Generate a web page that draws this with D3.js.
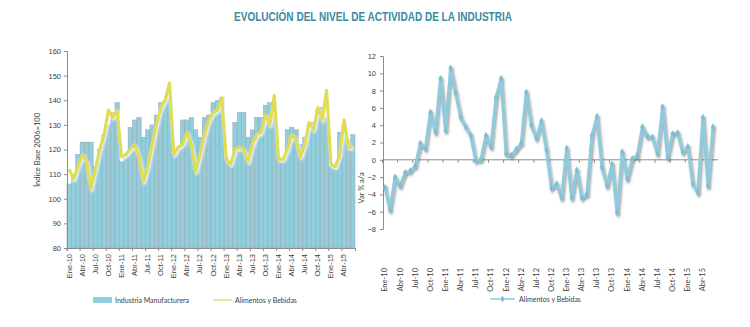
<!DOCTYPE html>
<html><head><meta charset="utf-8">
<script src="https://cdn.jsdelivr.net/npm/d3@7"></script>
<style>
body{margin:0;background:#fff;}
svg{display:block;font-family:Lato,"Open Sans",sans-serif;}
</style></head>
<body><svg id="c" width="750" height="327"></svg>
<script>
const monthNames = ["Ene","Feb","Mar","Abr","May","Jun","Jul","Ago","Sep","Oct","Nov","Dic"];
const years = ["10","11","12","13","14","15"];
const nMonths = 66;
const categories = d3.range(nMonths).map(i => monthNames[i % 12] + "-" + years[Math.floor(i / 12)]);

// Índice (base 2006=100) Industria Manufacturera
const industria = [
  106,109,118,123,123,123,113,120,126,130,135,139,
  115,118,129,132,133,125,128,130,134,139,140,141,
  118,120,132,132,133,128,125,133,134,139,140,141,
  117,115,131,135,135,125,128,133,133,138,139,139,
  117,116,128,129,128,122,125,130,131,136,137,133,
  113,112,127,130,124,126
];
// Índice Alimentos y Bebidas
const alimentos = [
  112,108,113,118,115,104,112,120,126,136,133,136,
  117,118,120,122,117,107,113,122,130,137,140,147,
  118,121,122,127,122,111,118,126,132,135,136,141,
  116,114,120,121,120,115,122,126,127,134,130,142,
  116,116,120,126,124,117,122,131,128,137,132,144,
  114,113,118,132,121,121
];
// Var % a/a Alimentos y Bebidas
const variacion = [
  -3.2,-5.8,-2.0,-3.0,-1.5,-1.3,-0.7,1.9,1.3,5.5,3.2,9.4,
  3.4,10.6,7.7,4.9,3.8,2.8,-0.1,0.0,2.8,1.5,7.2,9.4,
  0.7,0.5,1.2,1.9,7.8,4.0,2.5,4.5,1.1,-3.3,-2.8,-4.4,
  1.3,-4.4,-1.2,-4.4,-4.0,2.8,5.0,-0.9,-3.0,-0.5,-6.1,0.9,
  -2.2,0.1,0.5,3.8,2.7,2.6,0.7,6.1,0.3,3.0,3.1,0.9,
  1.5,-2.8,-3.8,4.9,-3.0,3.8
];
const leftTicks = [80,90,100,110,120,130,140,150,160];
const rightTicks = [-8,-6,-4,-2,0,2,4,6,8,10,12];

const svg = d3.select("#c");
const defs = svg.append("defs");
const f1 = defs.append("filter").attr("id","sh").attr("x","-10%").attr("y","-10%").attr("width","120%").attr("height","130%");
f1.append("feDropShadow").attr("dx",1.2).attr("dy",1.8).attr("stdDeviation",0.9).attr("flood-color","#444").attr("flood-opacity",0.55);
const f2 = defs.append("filter").attr("id","sh2").attr("x","-10%").attr("y","-10%").attr("width","120%").attr("height","130%");
f2.append("feDropShadow").attr("dx",1).attr("dy",1.6).attr("stdDeviation",1).attr("flood-color","#fff").attr("flood-opacity",0.9);

// Title
svg.append("text").attr("x",373).attr("y",21).attr("text-anchor","middle")
  .attr("font-family","'Liberation Sans Narrow','Arial Narrow',sans-serif").attr("font-weight","bold")
  .attr("font-size",12.5).attr("fill","#3a8aa0").attr("textLength",278).attr("lengthAdjust","spacingAndGlyphs")
  .text("EVOLUCIÓN DEL NIVEL DE ACTIVIDAD DE LA INDUSTRIA");

const labelColor = "#404040";
const axisColor = "#8c8c8c";
const fs = 7.5;

// ---------- LEFT CHART ----------
const xL = d3.scaleBand().domain(d3.range(nMonths)).range([67,355]).padding(0);
const yL = d3.scaleLinear().domain([80,160]).range([248,51]);
const gL = svg.append("g");

gL.selectAll("rect.bar").data(industria).enter().append("rect")
  .attr("class","bar")
  .attr("x",(d,i)=>xL(i)).attr("width",xL.bandwidth())
  .attr("y",d=>yL(d)).attr("height",d=>yL(80)-yL(d))
  .attr("fill","#92cddc").attr("stroke","#9aa7ad").attr("stroke-width",0.5);

const lineL = d3.line().x((d,i)=>xL(i)+xL.bandwidth()/2).y(d=>yL(d));
gL.append("path").datum(alimentos).attr("d",lineL).attr("fill","none")
  .attr("stroke","#e0dc52").attr("stroke-width",3.2).attr("stroke-linejoin","round")
  .attr("filter","url(#sh2)");

// left y axis
const ayL = d3.axisLeft(yL).tickValues(leftTicks).tickSize(3).tickPadding(3);
const gyL = gL.append("g").attr("transform","translate(67,0)").call(ayL);
gyL.select(".domain").attr("stroke",axisColor);
gyL.selectAll(".tick line").attr("stroke",axisColor);
gyL.selectAll("text").attr("font-size",fs).attr("fill",labelColor);

// left x axis
const qIdx = d3.range(0,nMonths,3);
const axL = d3.axisBottom(xL).tickValues(qIdx).tickSize(3).tickFormat(i=>categories[i]);
const gxL = gL.append("g").attr("transform","translate(0,248)").call(axL);
gxL.select(".domain").attr("stroke",axisColor);
gxL.selectAll(".tick line").attr("stroke",axisColor).attr("transform",`translate(${-xL.bandwidth()/2},0)`);
gxL.selectAll("text").attr("font-size",fs).attr("fill",labelColor)
  .attr("text-anchor","end").attr("transform","rotate(-90)").attr("x",-6).attr("y",0).attr("dy","0.32em");

svg.append("text").attr("transform","translate(40,150) rotate(-90)").attr("text-anchor","middle")
  .attr("font-size",fs).attr("fill",labelColor).text("Índice Base 2006=100");

// left legend
svg.append("rect").attr("x",93).attr("y",297).attr("width",19).attr("height",6).attr("fill","#92cddc");
svg.append("text").attr("x",115).attr("y",303).attr("font-size",7).attr("fill",labelColor).text("Industria Manufacturera");
svg.append("line").attr("x1",213).attr("x2",232).attr("y1",300).attr("y2",300).attr("stroke","#e0dc52").attr("stroke-width",1.2);
svg.append("text").attr("x",235).attr("y",303).attr("font-size",7).attr("fill",labelColor).text("Alimentos y Bebidas");

// ---------- RIGHT CHART ----------
const xR = d3.scalePoint().domain(d3.range(nMonths)).range([385,713]);
const yR = d3.scaleLinear().domain([-8,12]).range([229,56]);
const gR = svg.append("g");

const ayR = d3.axisLeft(yR).tickValues(rightTicks).tickSize(3).tickPadding(4);
const gyR = gR.append("g").attr("transform","translate(383,0)").call(ayR);
gyR.select(".domain").attr("stroke",axisColor);
gyR.selectAll(".tick line").attr("stroke",axisColor);
gyR.selectAll("text").attr("font-size",fs).attr("fill",labelColor);

// zero line with ticks
const step = xR.step();
gR.append("line").attr("x1",383).attr("x2",718).attr("y1",yR(0)).attr("y2",yR(0)).attr("stroke",axisColor);
gR.selectAll("line.zt").data(qIdx).enter().append("line").attr("class","zt")
  .attr("x1",i=>xR(i)-step/2).attr("x2",i=>xR(i)-step/2)
  .attr("y1",yR(0)).attr("y2",yR(0)+3).attr("stroke",axisColor);

// x labels (low)
gR.selectAll("text.xl").data(qIdx).enter().append("text").attr("class","xl")
  .attr("transform",i=>`translate(${xR(i)},268) rotate(-90)`)
  .attr("text-anchor","end").attr("dy","0.32em")
  .attr("font-size",fs).attr("fill",labelColor).text(i=>categories[i]);

svg.append("text").attr("transform","translate(364,188) rotate(-90)").attr("text-anchor","middle")
  .attr("font-size",fs).attr("fill",labelColor).text("Var % a/a");

const lineR = d3.line().x((d,i)=>xR(i)).y(d=>yR(d));
const gLine = gR.append("g").attr("filter","url(#sh)");
gLine.append("path").datum(variacion).attr("d",lineR).attr("fill","none")
  .attr("stroke","#8ecbdc").attr("stroke-width",3).attr("stroke-linejoin","round");
const diamond = d3.symbol().type(d3.symbolDiamond).size(16);
gLine.selectAll("path.mk").data(variacion).enter().append("path").attr("class","mk")
  .attr("d",diamond).attr("transform",(d,i)=>`translate(${xR(i)},${yR(d)})`)
  .attr("fill","#7fbfd2");

// right legend
svg.append("line").attr("x1",490).attr("x2",515).attr("y1",299).attr("y2",299).attr("stroke","#8ecbdc").attr("stroke-width",1.5);
svg.append("path").attr("d",d3.symbol().type(d3.symbolDiamond).size(14)).attr("transform","translate(502.5,299)").attr("fill","#7fbfd2");
svg.append("text").attr("x",519).attr("y",302).attr("font-size",7).attr("fill",labelColor).text("Alimentos y Bebidas");
</script></body></html>
